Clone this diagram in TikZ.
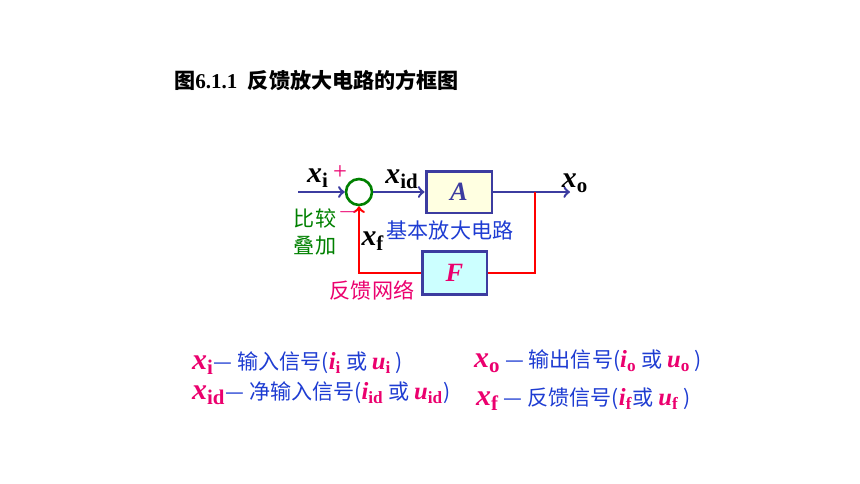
\documentclass[tikz,border=0pt]{standalone}
\usepackage{fontspec}
\usepackage{xcolor}
\setmainfont{Liberation Serif}
\newfontfamily\cjk{Noto Sans CJK SC}
\usetikzlibrary{calc}
\usetikzlibrary{positioning}

\definecolor{navyline}{RGB}{60,60,160}
\definecolor{sumgreen}{RGB}{0,128,0}
\definecolor{labelblue}{RGB}{30,60,210}
\definecolor{pinkred}{RGB}{235,0,110}
\definecolor{ampfill}{RGB}{255,255,225}
\definecolor{fbfill}{RGB}{204,255,255}

\newcommand{\sgl}[2]{\textbf{\textit{#1}}\textsubscript{\textbf{#2}}}
\newcommand{\pk}[2]{{\color{pinkred}\fontsize{17}{17}\selectfont\sgl{#1}{#2}}}
\newcommand{\pv}[2]{{\color{pinkred}\fontsize{14}{14}\selectfont\sgl{#1}{#2}}}

\begin{document}
\begin{tikzpicture}[x=0.02cm, y=-0.02cm]
    \useasboundingbox (0,0) rectangle (860,484);

    \node [anchor=west, font=\fontsize{12}{14}\selectfont\bfseries] (title) at (168,80) {{\cjk 图}6.1.1\ \ {\cjk 反馈放大电路的方框图}};

    \node [circle, minimum size=0.52cm, inner sep=0pt, draw=sumgreen, line width=1.5pt] (sum) at (359,192) {};
    \node [rectangle, minimum width=1.32cm, minimum height=0.84cm, draw=navyline, fill=ampfill, line width=1.7pt, text=navyline, font=\fontsize{15}{15}\selectfont\bfseries\itshape] (amp) at (459,192) {A};
    \node [rectangle, minimum width=1.3cm, minimum height=0.86cm, draw=navyline, fill=fbfill, line width=1.7pt, text=pinkred, font=\fontsize{15}{15}\selectfont\bfseries\itshape] (fb) at (454.5,273) {F};
    \coordinate (in) at (298,192);
    \coordinate (out) at (570,192);
    \coordinate (branch) at (535,192);

    \draw [->, navyline, line width=1.4pt] (in) -- (sum);
    \draw [->, navyline, line width=1.4pt] (sum) -- (amp);
    \draw [->, navyline, line width=1.4pt] (amp) -- (out);
    \draw [red, line width=1.4pt] (branch) |- (fb);
    \draw [->, red, line width=1.4pt] (fb) -| (sum);

    \node [font=\fontsize{17}{17}\selectfont] (xi) at (318,178) {\sgl{x}{i}};
    \node [text=pinkred, font=\fontsize{14}{14}\selectfont] (plus) at (340,173) {+};
    \node [font=\fontsize{17}{17}\selectfont] (xid) at (402,179) {\sgl{x}{id}};
    \node [font=\fontsize{17}{17}\selectfont] (xo) at (575,183) {\sgl{x}{o}};
    \node [text=pinkred, font=\fontsize{14}{14}\selectfont] (minus) at (348,212) {$-$};
    \node [font=\fontsize{17}{17}\selectfont] (xf) at (373,241) {\sgl{x}{f}};
    \node [text=sumgreen, align=center, inner sep=0pt, font=\cjk\fontsize{12}{15}\selectfont] (cmp) at (315,232) {比较\\叠加};
    \node [text=labelblue, font=\cjk\fontsize{12}{14}\selectfont] (ampname) at (450,230) {基本放大电路};
    \node [text=pinkred, font=\cjk\fontsize{12}{14}\selectfont] (fbname) at (372,290) {反馈网络};

    % legend
    \node [anchor=west, text=labelblue, font=\fontsize{12}{14}\selectfont] (li) at (186,363) {\pk{x}{i}{\cjk — 输入信号(}\pv{i}{i}{\cjk\ 或 }\pv{u}{i}{\cjk\ )}};
    \node [anchor=west, text=labelblue, font=\fontsize{12}{14}\selectfont] (lid) at (186,393) {\pk{x}{id}{\cjk — 净输入信号(}\pv{i}{id}{\cjk\ 或 }\pv{u}{id}{\cjk )}};
    \node [anchor=west, text=labelblue, font=\fontsize{12}{14}\selectfont] (lo) at (468,361) {\pk{x}{o}{\cjk\ — 输出信号(}\pv{i}{o}{\cjk\ 或 }\pv{u}{o}{\cjk\ )}};
    \node [anchor=west, text=labelblue, font=\fontsize{12}{14}\selectfont] (lf) at (470,399) {\pk{x}{f}{\cjk\ — 反馈信号(}\pv{i}{f}{\cjk 或 }\pv{u}{f}{\cjk\ )}};
\end{tikzpicture}
\end{document}
